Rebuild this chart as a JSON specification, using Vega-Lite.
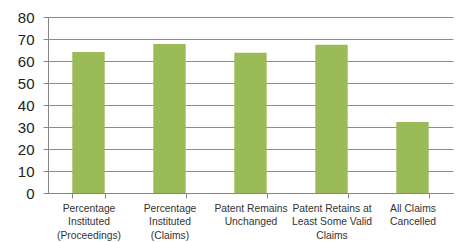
{
  "$schema": "https://vega.github.io/schema/vega-lite/v6.json",
  "width": 405,
  "height": 176,
  "autosize": {"type": "none"},
  "padding": {"left": 48, "top": 17, "right": 4, "bottom": 49},
  "background": "white",
  "data": {
    "values": [
      {"category": "Percentage\nInstituted\n(Proceedings)", "value": 64.1},
      {"category": "Percentage\nInstituted\n(Claims)", "value": 67.7},
      {"category": "Patent Remains\nUnchanged", "value": 63.8},
      {"category": "Patent Retains at\nLeast Some Valid\nClaims", "value": 67.4},
      {"category": "All Claims\nCancelled", "value": 32.3}
    ]
  },
  "mark": {"type": "bar", "color": "#9BBB59"},
  "encoding": {
    "x": {
      "field": "category",
      "type": "nominal",
      "sort": null,
      "scale": {"paddingInner": 0.6, "paddingOuter": 0.3},
      "axis": {
        "title": null,
        "labelAngle": 0,
        "labelExpr": "split(datum.label, '\\n')",
        "labelFont": "Liberation Sans",
        "labelFontSize": 10.3,
        "labelColor": "#333333",
        "labelLineHeight": 13.5,
        "labelPadding": 5,
        "labelLimit": 200,
        "tickBand": "extent",
        "tickSize": 5,
        "tickColor": "#868686",
        "domainColor": "#868686",
        "grid": false
      }
    },
    "y": {
      "field": "value",
      "type": "quantitative",
      "scale": {"domain": [0, 80], "nice": false},
      "axis": {
        "title": null,
        "values": [0, 10, 20, 30, 40, 50, 60, 70, 80],
        "labelFont": "Liberation Sans",
        "labelFontSize": 15,
        "labelColor": "#222222",
        "labelPadding": 9,
        "tickSize": 5,
        "tickColor": "#868686",
        "domainColor": "#868686",
        "gridColor": "#8c8c8c",
        "gridWidth": 1
      }
    }
  },
  "config": {"view": {"stroke": null}}
}
